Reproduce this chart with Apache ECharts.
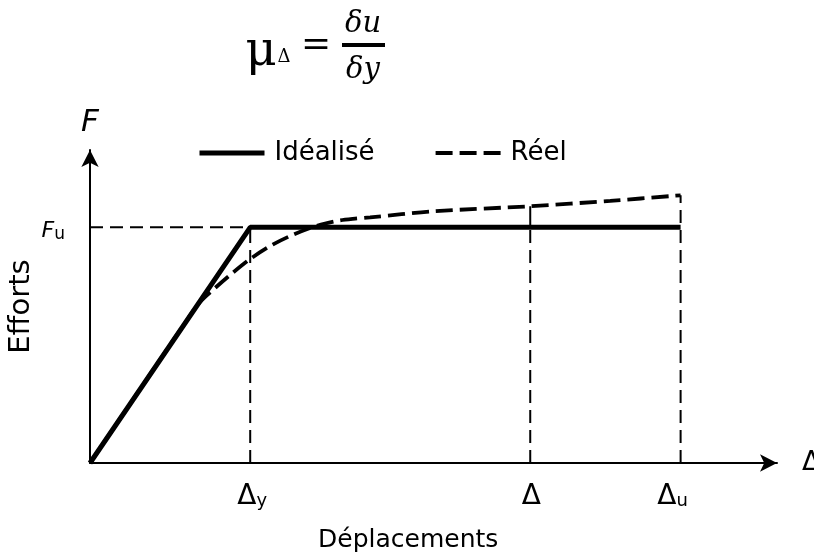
<!DOCTYPE html>
<html>
<head>
<meta charset="utf-8">
<script src="https://cdn.jsdelivr.net/npm/echarts@6/dist/echarts.min.js"></script>
<style>html,body{margin:0;padding:0;background:#fff}#c{width:814px;height:558px}</style>
</head>
<body>
<div id="c"></div>
<script>
// ---- data (axis units: displacement, force) ----
const Fu = 77.4;
const tickValues = [23.6, 64.85, 87.0];          // Δy, Δ, Δu
const tickMain = ['Δ', 'Δ', 'Δ'];
const tickSub = ['y', '', 'u'];
const idealX = [0, 23.6, 87.0];
const idealY = [0, 77.4, 77.4];
const realX = [0, 14.0, 16.21, 18.42, 20.63, 23.6, 26.53, 29.48, 32.42, 34.64, 36.85, 39.06, 41.27, 50.55, 64.85, 76.64, 87.0];
const realY = [0, 45.98, 52.87, 57.47, 61.74, 67.0, 71.26, 74.55, 77.18, 78.65, 79.70, 80.26, 80.69, 82.66, 84.33, 86.11, 87.92];
const legendNames = ['Idéalisé', 'Réel'];

const FONT = 'DejaVu Sans, sans-serif';
const SERIF = 'DejaVu Serif, serif';

const zip = (xs, ys) => xs.map((x, i) => [x, ys[i]]);
const realAt = v => realY[realX.indexOf(v)];

const thinDash = { color: '#000', width: 2, type: [13, 7] };
const guideSeries = [];
function guide(pts, style) {
  guideSeries.push({ type: 'line', data: pts, symbol: 'none', silent: true, z: 1,
    lineStyle: style, clip: false });
}
guide([[0, Fu], [tickValues[0], Fu]], thinDash);
guide([[tickValues[0], 0], [tickValues[0], Fu]], thinDash);
guide([[tickValues[1], 0], [tickValues[1], Fu]], thinDash);
guide([[tickValues[1], Fu], [tickValues[1], realAt(tickValues[1])]], { color: '#000', width: 2 });
guide([[tickValues[2], 0], [tickValues[2], realAt(tickValues[2])]], thinDash);

const labelOffsets = [[2, 0], [1, 0], [-8, 0]];
const tickLabelData = tickValues.map((v, i) => ({
  value: [v, 0],
  label: { offset: labelOffsets[i],
    formatter: '{a|' + tickMain[i] + '}' + (tickSub[i] ? '{s|' + tickSub[i] + '}' : '') }
}));

const chart = echarts.init(document.getElementById('c'), null, { renderer: 'canvas' });
chart.setOption({
  animation: false,
  backgroundColor: '#fff',
  grid: { left: 90, right: 37, top: 150, bottom: 95, containLabel: false, outerBoundsMode: 'none' },
  legend: {
    data: [
      { name: legendNames[0], lineStyle: { color: '#000', width: 5, type: 'solid' } },
      { name: legendNames[1], lineStyle: { color: '#000', width: 4, type: [17, 7] } }
    ],
    left: 197, top: 140, padding: 0,
    itemWidth: 65, itemHeight: 30, itemGap: 59,
    textStyle: { fontFamily: FONT, fontSize: 26, color: '#000', padding: [0, 0, 0, 5] },
    itemStyle: { opacity: 0 }
  },
  xAxis: {
    type: 'value', min: 0, max: 101.2,
    axisLine: { show: true, onZero: false, symbol: ['none', 'arrow'], symbolSize: [13, 17],
      lineStyle: { color: '#000', width: 2 } },
    axisTick: { show: false }, axisLabel: { show: false }, splitLine: { show: false },
    name: 'Δ', nameLocation: 'end', nameGap: 25,
    nameTextStyle: { fontFamily: FONT, fontSize: 27, color: '#000', verticalAlign: 'middle' }
  },
  yAxis: [{
    type: 'value', min: 0, max: 102.8,
    axisLine: { show: true, onZero: false, symbol: ['none', 'arrow'], symbolSize: [13, 17],
      lineStyle: { color: '#000', width: 2 } },
    axisTick: { show: false }, axisLabel: { show: false }, splitLine: { show: false },
    name: 'F', nameLocation: 'end', nameGap: 12,
    nameTextStyle: { fontFamily: FONT, fontSize: 31, fontStyle: 'italic', color: '#000' }
  }, {
    type: 'value', min: 0, max: 102.8, position: 'left',
    axisLine: { show: false }, axisTick: { show: false }, axisLabel: { show: false }, splitLine: { show: false },
    name: 'Efforts', nameLocation: 'middle', nameGap: 54, nameRotate: 90,
    nameTextStyle: { fontFamily: FONT, fontSize: 29, color: '#000' }
  }],
  series: [
    ...guideSeries,
    { name: legendNames[1], type: 'line', data: zip(realX, realY), symbol: 'none', smooth: 0.3, z: 3,
      lineStyle: { color: '#000', width: 3.8, type: [17, 7] } },
    { name: legendNames[0], type: 'line', data: zip(idealX, idealY), symbol: 'none', z: 4,
      lineStyle: { color: '#000', width: 5 } },
    { type: 'scatter', data: tickLabelData, symbolSize: 0, silent: true, z: 5,
      itemStyle: { opacity: 1, color: '#000' },
      label: { show: true, position: 'bottom', distance: 20, color: '#000',
        rich: {
          a: { fontFamily: FONT, fontSize: 28, verticalAlign: 'top', color: '#000' },
          s: { fontFamily: FONT, fontSize: 18, verticalAlign: 'top', padding: [9, 0, 0, 0], color: '#000' }
        } } },
    { type: 'scatter', data: [[0, Fu]], symbolSize: 0, silent: true, z: 5,
      itemStyle: { opacity: 1, color: '#000' },
      label: { show: true, position: 'left', distance: 25, offset: [0, 4], color: '#000',
        formatter: '{a|F}{s|u}',
        rich: {
          a: { fontFamily: FONT, fontSize: 22, fontStyle: 'italic', verticalAlign: 'top', color: '#000' },
          s: { fontFamily: FONT, fontSize: 17, verticalAlign: 'top', padding: [6, 0, 0, 0], color: '#000' }
        } } }
  ],
  graphic: [
    { type: 'text', left: 318, top: 528, style: { text: 'Déplacements', font: '25px ' + FONT, fill: '#000' } },
    { type: 'text', x: 261, y: 53, style: { text: 'μ', font: '48px ' + SERIF, fill: '#000', textAlign: 'center', textVerticalAlign: 'middle' } },
    { type: 'text', x: 284, y: 57, style: { text: 'Δ', font: '18px ' + SERIF, fill: '#000', textAlign: 'center', textVerticalAlign: 'middle' } },
    { type: 'text', x: 316, y: 46, style: { text: '=', font: '36px ' + SERIF, fill: '#000', textAlign: 'center', textVerticalAlign: 'middle' } },
    { type: 'rect', shape: { x: 342, y: 43, width: 43, height: 4 }, style: { fill: '#000' } },
    { type: 'text', x: 363, y: 24, style: { text: 'δu', font: 'italic 29px ' + SERIF, fill: '#000', textAlign: 'center', textVerticalAlign: 'middle' } },
    { type: 'text', x: 363, y: 70, style: { text: 'δy', font: 'italic 29px ' + SERIF, fill: '#000', textAlign: 'center', textVerticalAlign: 'middle' } }
  ]
});
</script>
</body>
</html>
